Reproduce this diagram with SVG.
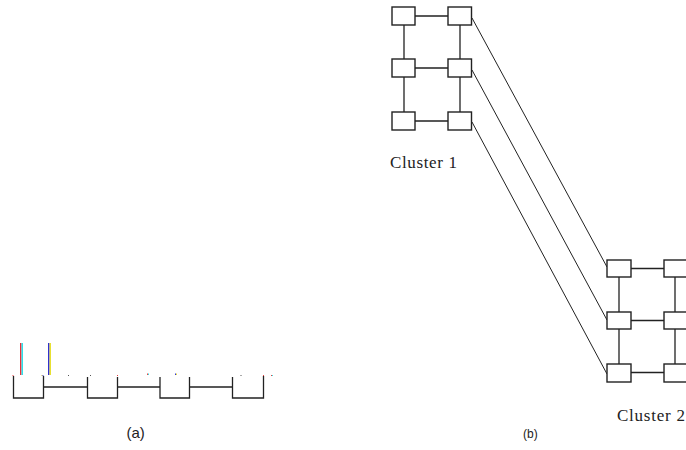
<svg xmlns="http://www.w3.org/2000/svg" width="686" height="450" viewBox="0 0 686 450">
<style>
.box{fill:#fff;stroke:#222;stroke-width:1.4}
.ln{fill:none;stroke:#222;stroke-width:1.3}
.cn{fill:none;stroke:#222;stroke-width:1}
.lbl{font-family:"Liberation Serif","Times New Roman",serif;font-size:17px;fill:#222}
.cap{font-family:"Liberation Sans",Arial,sans-serif;fill:#222}
</style>
<rect width="686" height="450" fill="#fff"/>
<g id="panel-a">
<path class="ln" d="M13.5,376 V398 H43.5 V376 M43.5,387 H87.5 M87.5,377 V398 H117.5 V377 M117.5,387 H160 M160,377 V398 H189.5 V377 M189.5,387 H232.5 M232.5,377 V398 H263.5 V376"/>
<rect x="20" y="343" width="1.5" height="32" fill="#e8303a"/>
<rect x="21.5" y="343" width="1.5" height="32" fill="#30e0e8"/>
<rect x="48" y="343" width="1.5" height="32" fill="#3030d0"/>
<rect x="49.5" y="343" width="1.5" height="32" fill="#e8e030"/>
<rect x="12.5" y="375" width="1" height="1" fill="#e84040"/>
<rect x="41.5" y="375" width="1" height="1" fill="#d0c030"/>
<rect x="42.5" y="375" width="1" height="1" fill="#4040d0"/>
<rect x="68" y="375" width="1" height="1" fill="#555"/>
<rect x="90" y="375" width="1" height="1" fill="#555"/>
<rect x="117" y="375" width="1" height="1" fill="#e84040"/>
<rect x="147" y="373.5" width="1" height="1.5" fill="#e84040"/>
<rect x="148" y="373.5" width="1" height="1.5" fill="#30e0e8"/>
<rect x="175" y="373.5" width="1" height="1.5" fill="#3030d0"/>
<rect x="176" y="373.5" width="1" height="1.5" fill="#e8e030"/>
<rect x="240.5" y="375" width="1" height="1" fill="#555"/>
<rect x="263" y="375" width="1" height="1" fill="#e84040"/>
<rect x="271" y="375" width="1" height="1" fill="#e84040"/>
<rect x="272" y="375" width="1" height="1" fill="#30e0e8"/>
<text class="cap" x="126.5" y="438" font-size="15">(a)</text>
</g>
<g id="connectors">
<path class="ln" d="M415,16 H448 M415,68 H448 M415,121 H448 M404,25 V59 M404,77 V112 M460,25 V59 M460,77 V112"/>
<path class="ln" d="M631,268.5 H664 M631,320.5 H664 M631,372.5 H664 M619,277 V312 M619,329 V364 M675,277 V312 M675,329 V364"/>
<path class="cn" d="M472,18 L607,267 M472,70 L607,320 M472,122 L607,374"/>
</g>
<g id="c1-n1"><rect class="box" x="392" y="7" width="23" height="18"/></g>
<g id="c1-n2"><rect class="box" x="448" y="7" width="23.5" height="18"/></g>
<g id="c1-n3"><rect class="box" x="392" y="59" width="23" height="18"/></g>
<g id="c1-n4"><rect class="box" x="448" y="59" width="23.5" height="18"/></g>
<g id="c1-n5"><rect class="box" x="392" y="112" width="23" height="18"/></g>
<g id="c1-n6"><rect class="box" x="448" y="112" width="23.5" height="18"/></g>
<g id="c2-n1"><rect class="box" x="607" y="260" width="24" height="17"/></g>
<g id="c2-n2"><rect class="box" x="664" y="260" width="24" height="17"/></g>
<g id="c2-n3"><rect class="box" x="607" y="312" width="24" height="17"/></g>
<g id="c2-n4"><rect class="box" x="664" y="312" width="24" height="17"/></g>
<g id="c2-n5"><rect class="box" x="607" y="364" width="24" height="18"/></g>
<g id="c2-n6"><rect class="box" x="664" y="364" width="24" height="18"/></g>
<g id="labels">
<text class="lbl" x="390" y="168" textLength="67" lengthAdjust="spacing">Cluster 1</text>
<text class="lbl" x="617" y="421" textLength="68" lengthAdjust="spacing">Cluster 2</text>
<text class="cap" x="523" y="438" font-size="12">(b)</text>
</g>
</svg>
